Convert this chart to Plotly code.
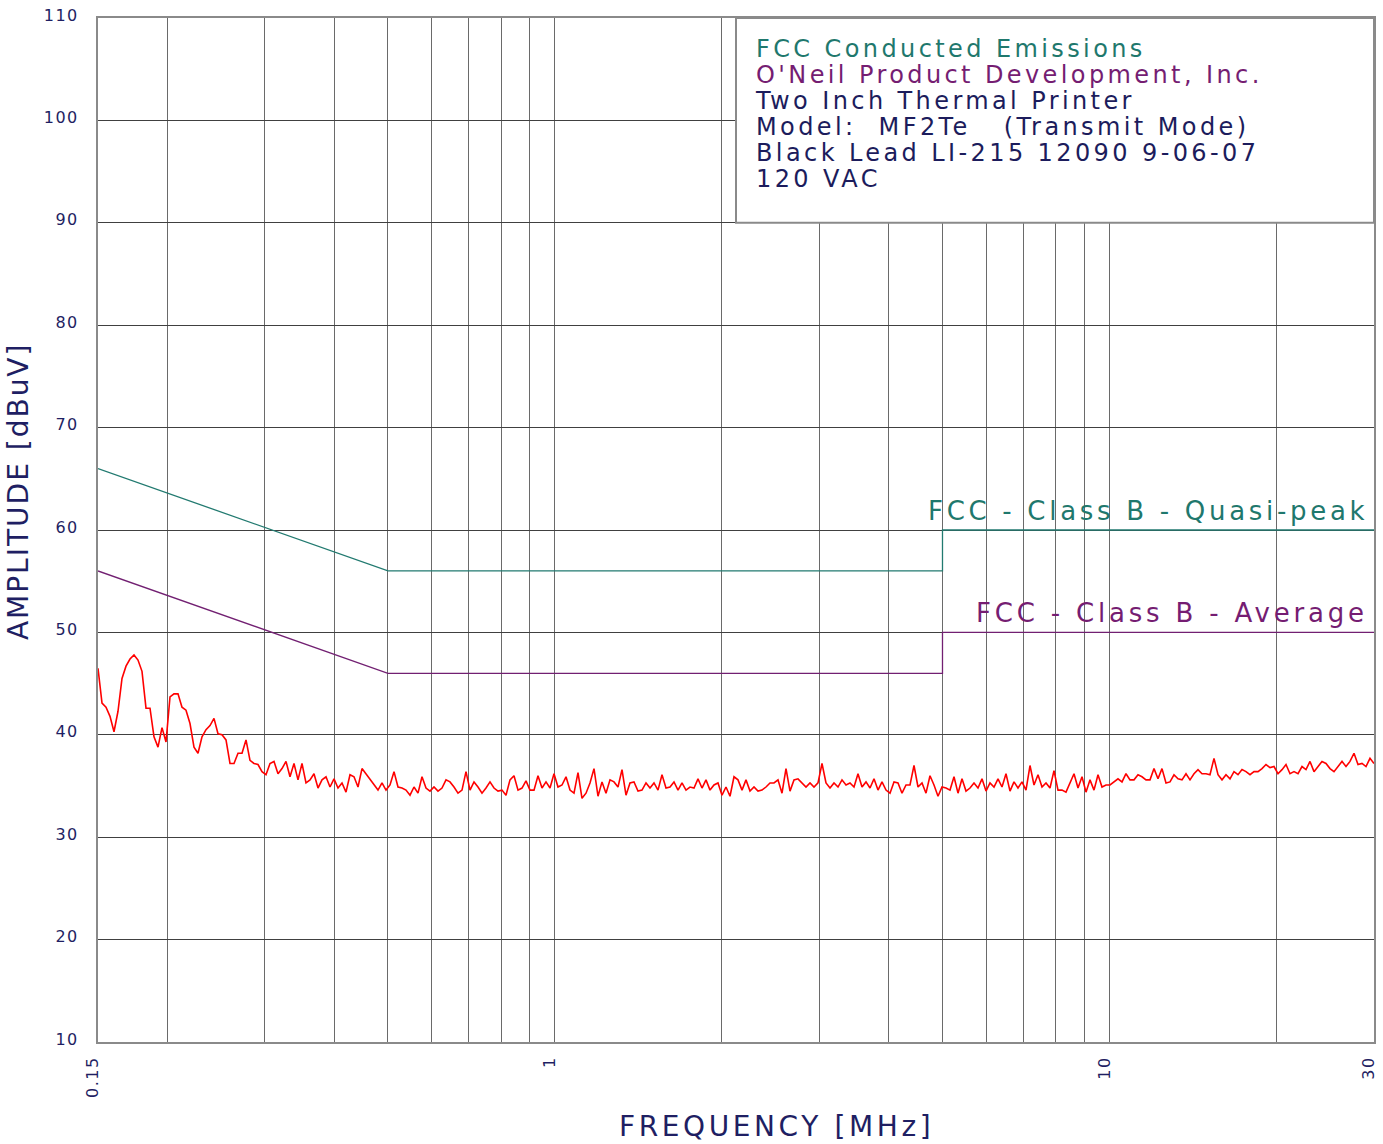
import numpy as np
import plotly.graph_objects as go

# ---- measured conducted emissions (dBuV), 320-point log sweep 0.15–30 MHz ----
band_low = [
    46.5, 43.1, 42.7, 41.8, 40.3, 42.3, 45.5, 46.7, 47.4, 47.8,
    47.3, 46.2, 42.6, 42.6, 39.8, 38.8, 40.7, 39.3, 43.7, 44.0,
    44.0, 42.7, 42.4, 41.1, 38.8, 38.2, 39.8, 40.5, 40.9, 41.6,
    40.1, 40.0, 39.5, 37.2, 37.2, 38.2, 38.2, 39.5, 37.5, 37.2,
    37.1, 36.4, 36.1, 37.2, 37.4, 36.2, 36.7, 37.4, 35.9, 37.2,
    35.6, 37.2, 35.3, 35.6, 36.2, 34.8, 35.6, 35.9, 34.9, 35.7,
    34.8, 35.3, 34.4, 36.1, 35.9, 34.9, 36.7, 36.2, 35.6, 35.1,
    34.6, 35.3, 34.6, 35.1, 36.4, 34.9, 34.8, 34.6, 34.1, 34.9,
    34.3, 35.9, 34.8,
]
band_mid1 = [
    34.5, 34.9, 34.5, 34.8, 35.6, 35.4, 34.9, 34.3, 34.6, 36.4,
    34.6, 35.4, 34.9, 34.3, 34.8, 35.4, 34.8, 34.5, 34.6, 34.1,
    35.6, 36.0, 34.6, 34.8, 35.5, 34.6, 34.6, 36.0, 34.8, 35.4,
    34.8, 36.2, 34.9, 35.1, 35.9, 34.6, 34.3, 36.3, 33.8, 34.3,
    35.3, 36.7, 34.0, 35.4, 34.3, 35.6, 35.4, 34.9, 36.6, 34.1,
    35.3, 35.4, 34.5, 34.6, 35.3, 34.8, 35.3, 34.6, 36.1, 34.8,
    34.9, 35.4, 34.6, 35.3, 34.6, 34.9, 34.8, 35.7, 34.8, 35.6,
    34.6, 35.1, 35.3, 34.1, 34.9, 34.0, 35.9, 35.6, 34.6, 35.6,
    34.5, 34.9,
]
band_mid2 = [
    34.5, 34.6, 34.9, 35.3, 35.3, 35.6, 34.3, 36.7, 34.5, 35.6,
    35.7, 35.3, 34.9, 35.3, 34.9, 35.3, 37.2, 35.3, 34.8, 35.3,
    34.9, 35.6, 35.1, 35.3, 34.9, 36.2, 34.9, 35.4, 34.8, 35.7,
    34.6, 35.4, 34.6, 34.3, 35.4, 35.3, 34.3, 35.1, 35.1, 37.0,
    34.9, 35.3, 34.3, 36.0, 35.1, 34.0, 34.9, 34.8, 34.6, 35.9,
    34.3, 35.7, 34.5, 34.8, 35.3, 34.8, 35.7, 34.5, 35.3, 34.9,
    35.7, 34.9, 36.2, 34.5, 35.4, 34.8, 35.4, 34.6, 37.0, 35.1,
    36.1, 34.9, 35.3, 34.8, 36.5, 34.6, 34.6,
]
band_high = [
    34.4, 35.3, 36.2, 34.8, 35.9, 34.4, 35.6, 34.6, 36.1, 34.9,
    35.1, 35.1, 35.4, 35.7, 35.4, 36.2, 35.6, 35.6, 36.1, 35.9,
    35.6, 35.6, 36.7, 35.7, 36.7, 35.3, 35.4, 36.1, 35.7, 35.6,
    36.2, 35.6, 36.2, 36.6, 36.2, 36.2, 36.1, 37.7, 36.1, 35.6,
    36.1, 35.7, 36.4, 36.1, 36.6, 36.4, 36.1, 36.4, 36.4, 36.7,
    37.1, 36.8, 36.9, 36.2, 36.6, 37.1, 36.2, 36.4, 36.2, 36.9,
    36.6, 37.4, 36.4, 36.9, 37.4, 37.2, 36.7, 36.4, 36.9, 37.4,
    36.9, 37.4, 38.2, 37.1, 37.2, 36.9, 37.7, 37.2,
]
emission_dbuv = band_low + band_mid1 + band_mid2 + band_high
sweep_start_mhz, sweep_stop_mhz = 0.15, 30.0
sweep_mhz = np.geomspace(sweep_start_mhz, sweep_stop_mhz, len(emission_dbuv))

# ---- FCC Part 15 Class B limits ----
limit_freq_mhz = [0.15, 0.5, 5, 5, 30]
qp_limit_dbuv = [66, 56, 56, 60, 60]
avg_limit_dbuv = [56, 46, 46, 50, 50]

# ---- axis ticks ----
x_tick_vals = [0.15, 1, 10, 30]
x_tick_text = ["0.15", "1", "10", "30"]
x_minor_grid = [0.2, 0.3, 0.4, 0.5, 0.6, 0.7, 0.8, 0.9,
                2, 3, 4, 5, 6, 7, 8, 9, 20]
y_tick_vals = [10, 20, 30, 40, 50, 60, 70, 80, 90, 100, 110]

info_lines = [
    ("FCC Conducted Emissions", "#1f786d"),
    ("O'Neil Product Development, Inc.", "#751d72"),
    ("Two Inch Thermal Printer", "#1c1c5c"),
    ("Model:  MF2Te   (Transmit Mode)", "#1c1c5c"),
    ("Black Lead LI-215 12090 9-06-07", "#1c1c5c"),
    ("120 VAC", "#1c1c5c"),
]

TEAL = "#227a70"
PURPLE = "#722072"
NAVY = "#1f1f63"
FONT = "DejaVu Sans"


def wide(text, spacing, extra=""):
    """Wrap a label in a span with extra letter spacing (wide lettering)."""
    return f'<span style="letter-spacing:{spacing}px;{extra}">{text}</span>'


fig = go.Figure()
fig.add_trace(go.Scatter(x=limit_freq_mhz, y=qp_limit_dbuv, mode="lines",
                         line=dict(color=TEAL, width=1.3), showlegend=False))
fig.add_trace(go.Scatter(x=limit_freq_mhz, y=avg_limit_dbuv, mode="lines",
                         line=dict(color=PURPLE, width=1.3), showlegend=False))
fig.add_trace(go.Scatter(x=sweep_mhz, y=emission_dbuv, mode="lines",
                         line=dict(color="#ff0000", width=1.6), showlegend=False))

fig.update_xaxes(
    type="log", range=[np.log10(sweep_start_mhz), np.log10(sweep_stop_mhz)],
    tickvals=x_tick_vals, ticktext=[wide(t, 1.5) for t in x_tick_text],
    tickangle=-90,
    tickfont=dict(family=FONT, size=16, color=NAVY),
    ticks="", ticklabelstandoff=6, ticklabelshift=-5,
    showgrid=True, gridcolor="#6a6a6a", gridwidth=1.2,
    minor=dict(tickvals=x_minor_grid, showgrid=True, gridcolor="#6a6a6a",
               gridwidth=1.2, ticks=""),
    showline=True, mirror=True, linecolor="#8a8a8a", linewidth=2,
    zeroline=False, automargin=False,
)
fig.update_yaxes(
    range=[10, 110], tickvals=y_tick_vals,
    ticktext=[wide(str(v), 1.5) for v in y_tick_vals],
    tickfont=dict(family=FONT, size=16, color=NAVY),
    ticks="", ticklabelstandoff=14, ticklabelshift=-3,
    showgrid=True, gridcolor="#404040", gridwidth=1,
    showline=True, mirror=True, linecolor="#8a8a8a", linewidth=2,
    zeroline=False, automargin=False,
)

# title block in the upper right corner
fig.add_shape(type="rect", xref="paper", yref="paper", x0=0.5, x1=1.0,
              y0=0.8, y1=1.0, fillcolor="white",
              line=dict(color="#8a8a8a", width=2), layer="above")

# one multi-line block: 20px base size gives the 26px line pitch,
# each line is drawn at 24px inside its own span
info_block = "<br>".join(
    wide(txt, 3.4, f"fill:{col};font-size:24px") for txt, col in info_lines)

annotations = [
    dict(text=info_block, xref="paper", yref="paper",
         x=0.513, y=(1042 - 114) / 1024, xanchor="left", yanchor="middle",
         align="left", showarrow=False,
         font=dict(family=FONT, size=20, color=NAVY)),
    dict(text=wide("FCC - Class B - Quasi-peak", 3.7), xref="paper",
         yref="paper", x=0.997, y=(1042 - 511) / 1024,
         xanchor="right", yanchor="middle", showarrow=False,
         font=dict(family=FONT, size=26, color="#1f786d")),
    dict(text=wide("FCC - Class B - Average", 3.8), xref="paper",
         yref="paper", x=0.997, y=(1042 - 613) / 1024,
         xanchor="right", yanchor="middle", showarrow=False,
         font=dict(family=FONT, size=26, color="#751d72")),
    dict(text=wide("AMPLITUDE [dBuV]", 2), xref="paper", yref="paper",
         x=-0.0627, y=0.538, textangle=-90, xanchor="center", yanchor="middle",
         showarrow=False, font=dict(family=FONT, size=28, color=NAVY)),
    dict(text=wide("FREQUENCY [MHz]", 3.6), xref="paper", yref="paper",
         x=0.532, y=-0.083, xanchor="center", yanchor="middle",
         showarrow=False, font=dict(family=FONT, size=28, color=NAVY)),
]

fig.update_layout(
    width=1383, height=1144,
    margin=dict(l=98, r=9, t=18, b=102),
    paper_bgcolor="white", plot_bgcolor="white",
    annotations=annotations,
    showlegend=False,
)

fig.write_html("out.html")
